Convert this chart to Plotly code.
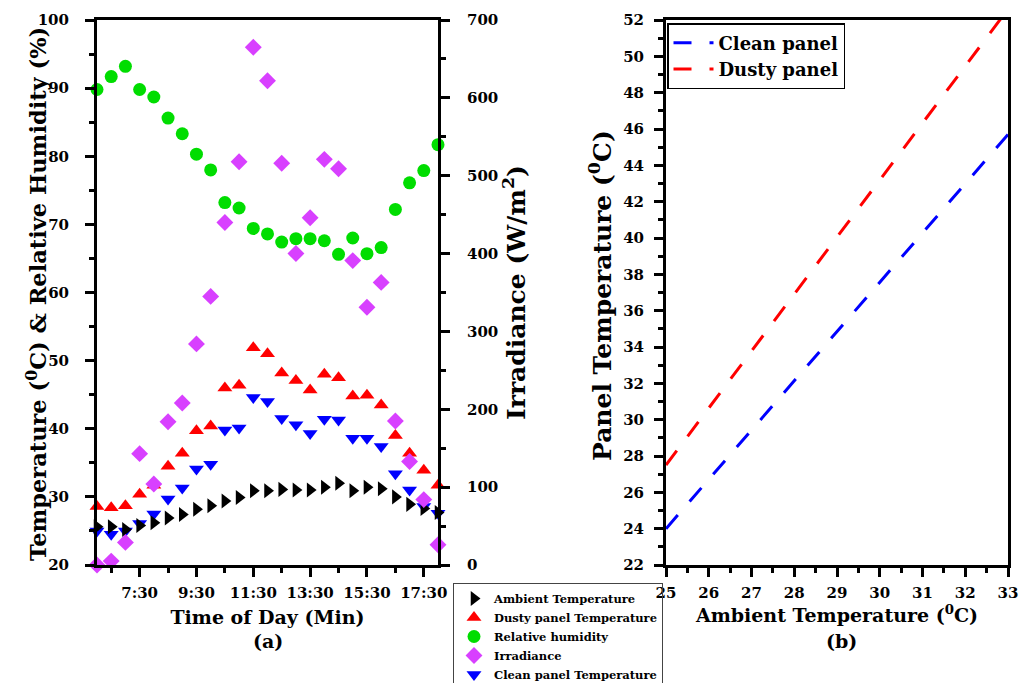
import plotly.graph_objects as go

# ---------------- data ----------------
times = ["6:00", "6:30", "7:00", "7:30", "8:00", "8:30", "9:00", "9:30", "10:00",
         "10:30", "11:00", "11:30", "12:00", "12:30", "13:00", "13:30", "14:00",
         "14:30", "15:00", "15:30", "16:00", "16:30", "17:00", "17:30", "18:00"]
ambient = [25.6, 25.6, 25.2, 25.8, 26.2, 26.9, 27.4, 28.2, 28.7, 29.4, 29.9, 30.9, 30.9,
           31.1, 31.0, 31.0, 31.4, 32.0, 30.9, 31.4, 31.2, 30.0, 28.9, 28.3, 27.7]
dusty = [28.6, 28.4, 28.7, 30.4, 31.7, 34.5, 36.4, 39.7, 40.4, 46.0, 46.4, 51.9, 51.0,
         48.2, 47.1, 45.7, 48.0, 47.5, 44.8, 44.9, 43.5, 39.0, 36.4, 33.9, 31.7]
clean = [25.0, 24.5, 25.0, 26.1, 27.5, 29.7, 31.3, 34.1, 34.8, 39.8, 40.1, 44.6, 44.0,
         41.5, 40.6, 39.3, 41.4, 41.3, 38.6, 38.6, 37.4, 33.4, 31.0, 28.6, 27.6]
humidity = [89.8, 91.7, 93.2, 89.8, 88.7, 85.6, 83.3, 80.3, 78.0, 73.2, 72.4, 69.4, 68.6,
            67.4, 67.9, 67.9, 67.6, 65.6, 68.0, 65.7, 66.6, 72.2, 76.1, 77.9, 81.7]
irradiance = [0, 5, 29, 143, 104, 184, 208, 284, 345, 440, 518, 665, 622, 516, 400, 446,
              521, 509, 391, 331, 363, 185, 133, 84, 26]
time_ticks = ["7:30", "9:30", "11:30", "13:30", "15:30", "17:30"]
time_minor = ["6:30", "8:30", "10:30", "12:30", "14:30", "16:30"]

ambient_fit_x = [25, 33]
clean_fit = [24.0, 45.7]
dusty_fit = [27.5, 52.6]


def to_min(t):
    h, m = t.split(":")
    return int(h) * 60 + int(m)


xm = [to_min(t) for t in times]

FONT = "DejaVu Serif"


def f(size, color="black"):
    return dict(family=FONT, size=size, color=color, weight="bold")


fig = go.Figure()

common = dict(x=xm, mode="markers", xaxis="x", cliponaxis=False, legend="legend")
fig.add_trace(go.Scatter(y=clean, name="Clean panel Temperature", yaxis="y", legendrank=5,
                         marker=dict(symbol="triangle-down", size=13, color="#0000FF"), **common))
fig.add_trace(go.Scatter(y=ambient, name="Ambient Temperature", yaxis="y", legendrank=1,
                         marker=dict(symbol="triangle-right", size=13, color="#000000"), **common))
fig.add_trace(go.Scatter(y=dusty, name="Dusty panel Temperature", yaxis="y", legendrank=2,
                         marker=dict(symbol="triangle-up", size=13, color="#FF0000"), **common))
fig.add_trace(go.Scatter(y=humidity, name="Relative humidity", yaxis="y", legendrank=3,
                         marker=dict(symbol="circle", size=13, color="#00DD00"), **common))
fig.add_trace(go.Scatter(y=irradiance, name="Irradiance", yaxis="y2", legendrank=4,
                         marker=dict(symbol="diamond", size=13, color="#D840FF"), **common))

fig.add_trace(go.Scatter(x=ambient_fit_x, y=clean_fit, mode="lines", name="Clean panel",
                         xaxis="x2", yaxis="y3", legend="legend2",
                         line=dict(color="#0000FF", width=3, dash="18px,18px")))
fig.add_trace(go.Scatter(x=ambient_fit_x, y=dusty_fit, mode="lines", name="Dusty panel",
                         xaxis="x2", yaxis="y3", legend="legend2",
                         line=dict(color="#FF0000", width=3, dash="18px,18px")))

W, H = 1021, 683
ydom = [1 - 565 / H, 1 - 20 / H]
axbase = dict(showline=True, linewidth=3, linecolor="black", showgrid=False, zeroline=False,
              ticks="outside", tickwidth=3, ticklen=9, tickcolor="black",
              tickfont=f(15), automargin=False, ticklabeloverflow="allow")
minor_style = dict(ticks="outside", ticklen=5, tickwidth=3, tickcolor="black")

fig.update_layout(
    width=W, height=H, autosize=False,
    margin=dict(l=0, r=0, t=0, b=0, autoexpand=False),
    paper_bgcolor="white", plot_bgcolor="white",
    font=f(15),
    xaxis=dict(**axbase, domain=[97 / W, 438 / W], anchor="y", range=[360, 1080], mirror=True,
               tickmode="array", tickvals=[to_min(t) for t in time_ticks], ticktext=time_ticks,
               minor=dict(tickmode="array", tickvals=[to_min(t) for t in time_minor], **minor_style),
               ticklabelstandoff=3,
               title=dict(text="Time of Day (Min)", font=f(19), standoff=10)),
    yaxis=dict(**axbase, domain=ydom, anchor="x", range=[20, 100], dtick=10,
               minor=dict(dtick=5, **minor_style), ticklabelstandoff=13),
    yaxis2=dict(**axbase, domain=ydom, anchor="x", overlaying="y", side="right",
                range=[0, 700], dtick=100,
                minor=dict(dtick=50, **minor_style), ticklabelstandoff=14,
                title=dict(text="Irradiance (W/m<sup>2</sup>)", font=f(25), standoff=0)),
    xaxis2=dict(**axbase, domain=[666 / W, 1008 / W], anchor="y3", range=[25, 33], dtick=1,
                mirror=True, minor=dict(dtick=0.5, **minor_style), ticklabelstandoff=3,
                title=dict(text="Ambient Temperature (<sup>0</sup>C)", font=f(19), standoff=0)),
    yaxis3=dict(**axbase, domain=ydom, anchor="x2", range=[22, 52], dtick=2, mirror=True,
                minor=dict(dtick=1, **minor_style), ticklabelstandoff=7),
    legend=dict(x=453 / W, y=1 - 583 / H, xref="container", yref="container",
                xanchor="left", yanchor="top",
                bordercolor="#444444", borderwidth=1, bgcolor="rgba(255,255,255,0)",
                font=f(11.5), tracegroupgap=0, itemwidth=30),
    legend2=dict(x=667 / W, y=1 - 23 / H, xref="container", yref="container",
                 xanchor="left", yanchor="top",
                 bordercolor="black", borderwidth=1.5, bgcolor="white",
                 font=f(18), tracegroupgap=0, itemwidth=40),
    annotations=[
        dict(text="Temperature (<sup>0</sup>C) & Relative Humidity (%)",
             x=37 / W, y=1 - 294 / H, xref="paper", yref="paper", textangle=-90,
             showarrow=False, font=f(22.5), xanchor="center", yanchor="middle"),
        dict(text="Panel Temperature (<sup>0</sup>C)",
             x=600 / W, y=1 - 296 / H, xref="paper", yref="paper", textangle=-90,
             showarrow=False, font=f(25), xanchor="center", yanchor="middle"),
        dict(text="(a)", x=267.5 / W, y=1 - 641 / H, xref="paper", yref="paper",
             showarrow=False, font=f(19), xanchor="center", yanchor="middle"),
        dict(text="(b)", x=841 / W, y=1 - 641 / H, xref="paper", yref="paper",
             showarrow=False, font=f(19), xanchor="center", yanchor="middle"),
    ],
)

fig.write_html("out.html",
               config={"responsive": False, "displayModeBar": False},
               post_script="document.body.style.margin='0';document.body.style.overflow='hidden';")
